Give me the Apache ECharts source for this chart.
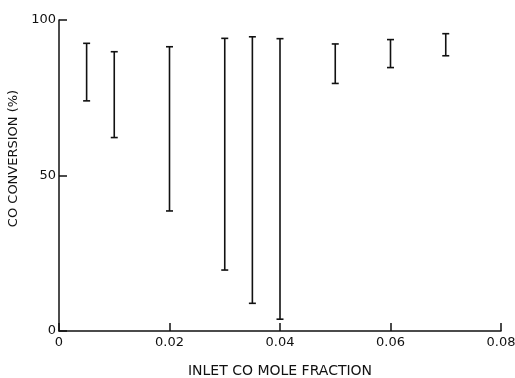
<!DOCTYPE html>
<html>
<head>
<meta charset="utf-8">
<script src="https://cdn.jsdelivr.net/npm/echarts@6/dist/echarts.min.js"></script>
<style>html,body{margin:0;padding:0;background:#fff}#c{width:515px;height:378px}</style>
</head>
<body>
<div id="c"></div>
<script>
// Data
var xValues = [0.005, 0.01, 0.02, 0.03, 0.035, 0.04, 0.05, 0.06, 0.07];
var lowValues = [74.0, 62.2, 38.6, 19.6, 8.9, 3.8, 79.6, 84.7, 88.5];
var highValues = [92.5, 89.8, 91.4, 94.1, 94.6, 94.0, 92.3, 93.7, 95.6];
var xTicks = [0, 0.02, 0.04, 0.06, 0.08];
var yTicks = [0, 50, 100];

var data = xValues.map(function (x, i) { return [x, lowValues[i], highValues[i]]; });
var ink = '#111';
var font = '"DejaVu Sans", sans-serif';

var chart = echarts.init(document.getElementById('c'));
chart.setOption({
  animation: false,
  backgroundColor: '#fff',
  grid: { left: 59, right: 14, top: 20, bottom: 47, containLabel: false, outerBoundsMode: 'none' },
  xAxis: {
    type: 'value', min: xTicks[0], max: xTicks[xTicks.length - 1], interval: 0.02,
    name: 'INLET CO MOLE FRACTION', nameLocation: 'middle', nameGap: 33,
    nameTextStyle: { color: ink, fontFamily: font, fontSize: 14 },
    axisLine: { show: true, lineStyle: { color: ink, width: 1.5 } },
    axisTick: { show: true, inside: true, length: 8, lineStyle: { color: ink, width: 1.5 } },
    splitLine: { show: false },
    axisLabel: {
      color: ink, fontFamily: font, fontSize: 13, margin: 5,
      formatter: function (v) { return v === 0 ? '0' : v.toFixed(2); }
    }
  },
  yAxis: {
    type: 'value', min: yTicks[0], max: yTicks[yTicks.length - 1], interval: 50,
    name: 'CO CONVERSION (%)', nameLocation: 'middle', nameGap: 36,
    nameTextStyle: { color: ink, fontFamily: font, fontSize: 13, padding: [0, 0, 0, 34] },
    axisLine: { show: true, lineStyle: { color: ink, width: 1.5 } },
    axisTick: { show: true, inside: true, length: 8, lineStyle: { color: ink, width: 1.5 } },
    splitLine: { show: false },
    axisLabel: {
      color: ink, fontFamily: font, fontSize: 13, margin: 3,
      formatter: function (v) { return v === 0 ? '0' : String(v); }
    }
  },
  series: [{
    type: 'custom',
    data: data,
    encode: { x: 0, y: [1, 2] },
    renderItem: function (params, api) {
      var x = api.value(0);
      var lo = api.coord([x, api.value(1)]);
      var hi = api.coord([x, api.value(2)]);
      var w = 3.5;
      var style = { stroke: ink, lineWidth: 1.6, fill: null };
      return {
        type: 'group',
        children: [
          { type: 'line', shape: { x1: lo[0], y1: lo[1], x2: hi[0], y2: hi[1] }, style: style },
          { type: 'line', shape: { x1: lo[0] - w, y1: lo[1], x2: lo[0] + w, y2: lo[1] }, style: style },
          { type: 'line', shape: { x1: hi[0] - w, y1: hi[1], x2: hi[0] + w, y2: hi[1] }, style: style }
        ]
      };
    }
  }]
});
</script>
</body>
</html>
